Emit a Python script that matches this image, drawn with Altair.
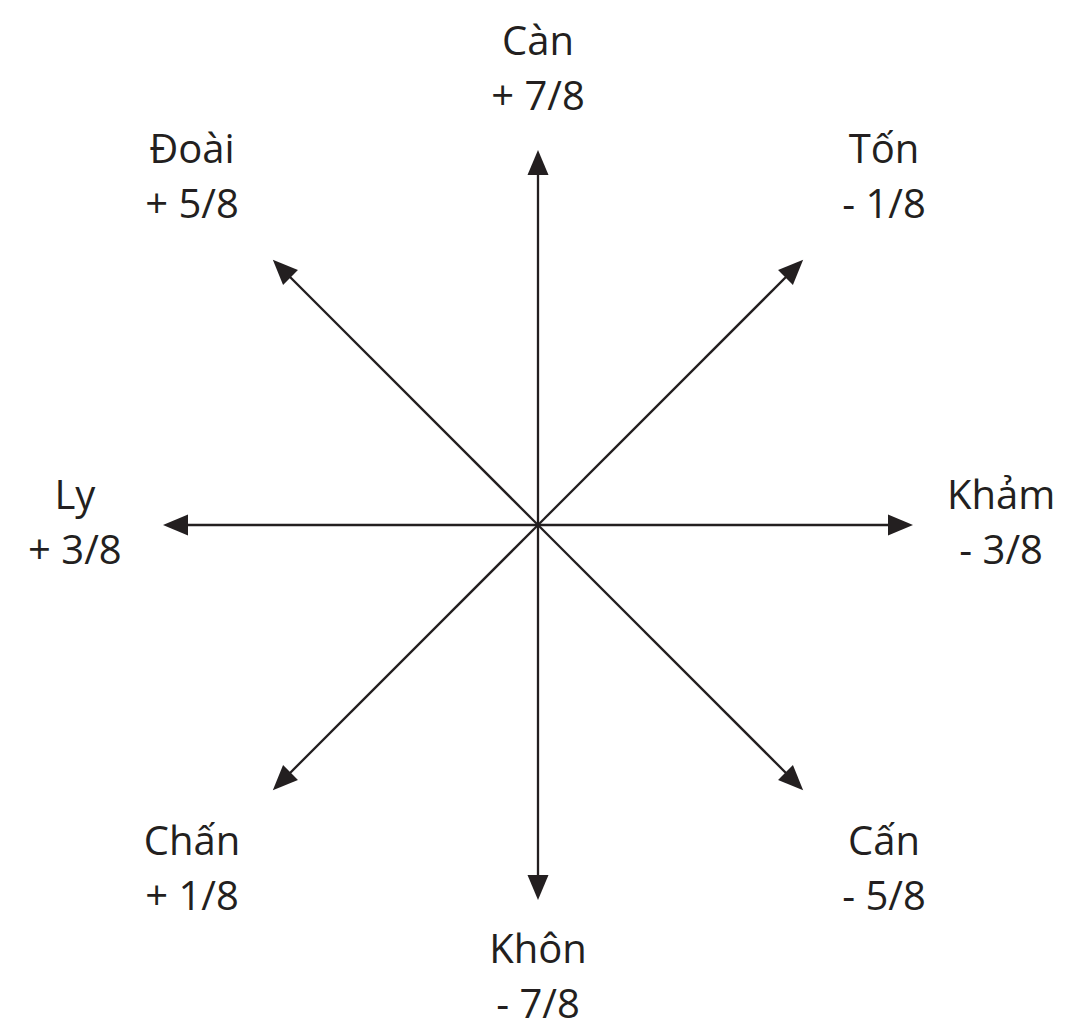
import math
import altair as alt
import pandas as pd

# Eight trigram directions (angle in degrees, counter-clockwise from east)
names = ["Càn", "Tốn", "Khảm", "Cấn", "Khôn", "Chấn", "Ly", "Đoài"]
values = ["+ 7/8", "- 1/8", "- 3/8", "- 5/8", "- 7/8", "+ 1/8", "+ 3/8", "+ 5/8"]
angles = [90, 45, 0, -45, -90, -135, 180, 135]

INK = "#231f20"
PX_PER_UNIT = 375.0
W, H = 1051, 1020
CX, CY = 530.0, 517.0  # centre of the star inside the plot area (px)


def label_radius(a):
    if a % 180 == 0:      # east / west
        return 1.235
    if a % 90 == 0:       # north / south
        return 1.21
    return 1.305          # diagonals


rows = []
for n, v, a in zip(names, values, angles):
    c, s = math.cos(math.radians(a)), math.sin(math.radians(a))
    lab_r = label_radius(a)
    rows.append(dict(
        name=n, value=v,
        x0=0.0, y0=0.0,
        xr=0.97 * c, yr=0.97 * s,
        xt=c, yt=s,
        rot=(90 - a) % 360,
        lx=lab_r * c, ly=lab_r * s,
    ))
df = pd.DataFrame(rows)

xs = alt.Scale(domain=[-CX / PX_PER_UNIT, (W - CX) / PX_PER_UNIT], nice=False, zero=False)
ys = alt.Scale(domain=[-(H - CY) / PX_PER_UNIT, CY / PX_PER_UNIT], nice=False, zero=False)

base = alt.Chart(df)

rules = base.mark_rule(color=INK, strokeWidth=2.3).encode(
    x=alt.X("x0:Q", scale=xs, axis=None),
    y=alt.Y("y0:Q", scale=ys, axis=None),
    x2="xr:Q",
    y2="yr:Q",
)

heads = base.mark_point(
    shape="M0,0 L0.42,1 L-0.42,1 Z", filled=True, size=2500,
    color=INK, opacity=1, strokeWidth=0,
).encode(
    x=alt.X("xt:Q", scale=xs, axis=None),
    y=alt.Y("yt:Q", scale=ys, axis=None),
    angle=alt.Angle("rot:Q", scale=None),
)

name_text = base.mark_text(
    font="Open Sans", fontSize=40, color=INK, baseline="middle", align="center", dy=-28,
).encode(
    x=alt.X("lx:Q", scale=xs, axis=None),
    y=alt.Y("ly:Q", scale=ys, axis=None),
    text="name:N",
)

value_text = base.mark_text(
    font="Open Sans", fontSize=40, color=INK, baseline="middle", align="center", dy=27,
).encode(
    x=alt.X("lx:Q", scale=xs, axis=None),
    y=alt.Y("ly:Q", scale=ys, axis=None),
    text="value:N",
)

chart = (
    alt.layer(rules, heads, name_text, value_text)
    .properties(width=W, height=H, padding=0, autosize="none", background="white")
    .configure_view(stroke=None)
)

chart.save("out.html", embed_options={"renderer": "svg", "actions": False})
